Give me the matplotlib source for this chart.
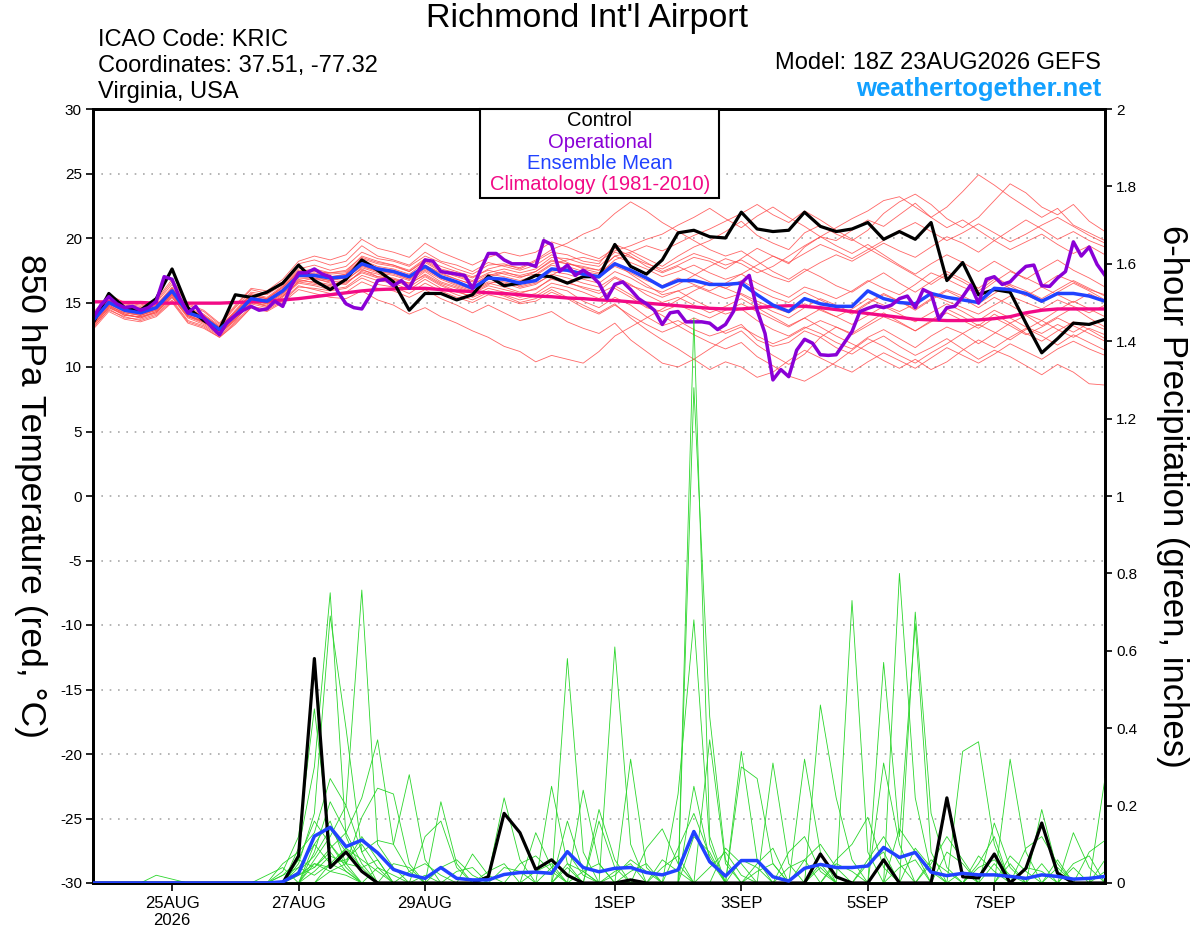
"""GEFS meteogram, Richmond Int'l Airport"""

import numpy as np
import pandas as pd
import matplotlib
matplotlib.use('Agg')
import matplotlib.pyplot as plt
from matplotlib.patches import Rectangle

plt.rcParams['font.family'] = ['Liberation Sans', 'DejaVu Sans']
plt.rcParams['axes.unicode_minus'] = False

RUN = pd.Timestamp('2026-08-23 18:00')
times = pd.date_range(RUN, periods=65, freq='6h')      # ensemble, 6-hourly
times_op = pd.date_range(RUN, periods=129, freq='3h')  # operational, 3-hourly

tick_dates = ['2026-08-25', '2026-08-27', '2026-08-29', '2026-09-01',
              '2026-09-03', '2026-09-05', '2026-09-07']
tick_labels = ['25AUG\n2026', '27AUG', '29AUG', '1SEP', '3SEP', '5SEP', '7SEP']

# 850 hPa temperature (C)
control_t = [13.4, 15.7, 14.6, 14.4, 15.3, 17.6, 14.6, 13.6, 12.9, 15.6,
             15.4, 15.8, 16.5, 17.9, 16.7, 16.0, 16.8, 18.3, 17.5, 16.6,
             14.4, 15.7, 15.7, 15.2, 15.6, 17.05, 16.3, 16.5, 17.1, 17.0,
             16.5, 17.0, 17.0, 19.5, 17.8, 17.2, 18.3, 20.4, 20.6, 20.1,
             20.0, 22.0, 20.7, 20.5, 20.6, 22.0, 20.9, 20.5, 20.7, 21.2,
             19.9, 20.5, 19.9, 21.2, 16.7, 18.1, 15.6, 16.0, 15.8, 13.4,
             11.1, 12.2, 13.4, 13.3, 13.7]

mean_t = [13.6, 15.0, 14.4, 14.2, 14.6, 15.9, 14.2, 13.8, 12.9, 14.0,
          15.3, 15.1, 15.9, 17.1, 17.1, 16.9, 17.0, 18.0, 17.6, 17.4,
          17.0, 17.8, 17.0, 16.6, 16.1, 16.9, 16.8, 16.5, 16.7, 17.6,
          17.5, 17.2, 17.0, 18.0, 17.5, 16.9, 16.2, 16.7, 16.7, 16.4,
          16.4, 16.5, 15.6, 14.8, 14.3, 15.3, 14.9, 14.7, 14.7, 15.9,
          15.3, 15.0, 14.9, 15.7, 15.4, 15.2, 15.0, 16.1, 16.0, 15.7,
          15.1, 15.7, 15.7, 15.5, 15.1]

clim_t = [15.05, 15.05, 15.0, 15.0, 14.95, 14.95, 14.95, 14.95, 14.95, 15.0,
          15.05, 15.1, 15.2, 15.3, 15.45, 15.6, 15.75, 15.9, 16.0, 16.05,
          16.1, 16.1, 16.0, 15.9, 15.85, 15.75, 15.7, 15.6, 15.5, 15.45,
          15.35, 15.3, 15.2, 15.15, 15.05, 14.95, 14.85, 14.75, 14.65, 14.55,
          14.5, 14.5, 14.6, 14.7, 14.75, 14.7, 14.6, 14.45, 14.3, 14.15,
          14.0, 13.85, 13.7, 13.65, 13.6, 13.6, 13.65, 13.75, 13.9, 14.2,
          14.4, 14.5, 14.5, 14.5, 14.5]

oper_t = [13.8, 14.8, 15.45, 14.9, 14.6, 14.7, 14.4, 14.6, 15.1, 17.0,
          16.8, 15.3, 14.2, 14.7, 13.8, 13.1, 12.5, 13.5, 14.0, 14.4,
          14.7, 14.4, 14.5, 15.1, 14.7, 16.2, 17.3, 17.3, 17.6, 17.2,
          17.0, 15.8, 14.9, 14.6, 14.5, 15.5, 16.7, 16.8, 16.3, 16.7,
          16.1, 17.3, 18.3, 18.2, 17.4, 17.3, 17.2, 17.1, 16.1, 17.5,
          18.8, 18.8, 18.3, 18.0, 18.0, 18.0, 17.8, 19.8, 19.5, 17.4,
          17.9, 17.1, 17.5, 17.1, 16.5, 15.3, 16.4, 16.6, 16.0, 15.3,
          14.9, 14.4, 13.3, 14.2, 14.3, 13.5, 13.5, 13.5, 13.4, 12.9,
          13.3, 14.3, 16.5, 17.1, 14.4, 12.6, 9.0, 9.8, 9.25, 11.3,
          12.15, 11.85, 10.95, 10.9, 10.95, 11.85, 12.75, 14.3, 14.55, 14.75,
          14.6, 14.8, 15.3, 15.5, 14.6, 16.0, 15.7, 13.7, 14.6, 14.7,
          15.45, 16.35, 14.95, 16.8, 17.0, 16.4, 16.6, 17.25, 17.8, 17.9,
          16.3, 16.25, 16.9, 17.4, 19.7, 18.6, 19.3, 17.95, 17.1]

# ensemble members, temperature
temp_members = [
    [13.9, 15.3, 14.8, 14.6, 15.0, 16.4, 14.6, 14.1, 13.2, 14.6, 15.8, 15.6, 16.4,
     17.6, 17.9, 17.5, 17.8, 18.9, 18.4, 18.2, 17.8, 18.6, 18.1, 17.6, 17.2,
     17.9, 18.0, 17.6, 18.2, 18.9, 18.7, 18.2, 18.0, 19.5, 19.0, 18.4, 17.8,
     18.6, 19.3, 19.8, 20.5, 21.3, 20.2, 19.6, 19.1, 20.4, 21.0, 20.3, 19.8,
     20.6, 21.9, 22.8, 23.4, 22.6, 21.5, 20.8, 21.6, 22.9, 24.2, 23.5, 22.4, 21.8, 22.6, 21.3, 20.5],
    [13.2, 14.6, 14.0, 13.9, 14.2, 15.4, 13.9, 13.4, 12.6, 13.6, 15.0, 14.8, 15.6,
     16.8, 16.5, 16.3, 16.8, 17.6, 17.0, 16.9, 16.5, 17.4, 16.6, 16.2, 15.8,
     16.4, 16.9, 16.2, 16.5, 17.1, 17.8, 17.4, 17.2, 18.3, 18.8, 18.1, 17.4,
     17.9, 18.5, 18.2, 17.6, 18.4, 19.2, 18.6, 18.0, 19.3, 20.1, 19.8, 20.6,
     21.4, 20.9, 21.8, 22.7, 21.6, 22.4, 23.6, 24.9, 24.1, 23.2, 22.4, 21.6, 22.3, 21.0, 20.4, 19.8],
    [13.4, 14.8, 14.1, 13.8, 14.3, 15.6, 14.0, 13.5, 12.7, 13.9, 15.1, 14.7, 15.5,
     16.6, 16.9, 16.5, 16.4, 17.5, 17.2, 16.8, 16.5, 17.1, 16.4, 15.9, 15.4,
     15.9, 15.6, 15.2, 15.5, 16.2, 15.9, 15.1, 14.6, 15.4, 14.8, 13.9, 13.2,
     13.6, 12.9, 12.4, 12.8, 13.3, 12.1, 11.6, 11.9, 12.8, 12.3, 11.5, 11.0,
     11.8, 12.4, 11.6, 10.9, 11.5, 12.2, 11.4, 10.6, 11.3, 10.8, 10.1, 9.4, 10.2, 9.6, 8.7, 8.6],
    [13.0, 14.5, 13.8, 13.7, 14.1, 15.2, 13.6, 13.2, 12.4, 13.5, 14.7, 14.5, 15.2,
     16.3, 16.0, 15.7, 15.8, 16.6, 16.1, 15.9, 15.4, 16.0, 15.3, 14.8, 14.2,
     14.8, 14.2, 13.6, 13.9, 14.3, 13.5, 13.0, 12.6, 13.4, 12.1, 11.2, 10.3,
     10.0, 10.6, 11.4, 12.2, 12.8, 11.7, 10.9, 10.2, 11.0, 12.3, 13.1, 12.6,
     13.4, 14.2, 13.5, 12.8, 13.6, 14.5, 13.9, 13.2, 14.1, 13.4, 12.6, 12.0, 12.8, 13.5, 12.9, 12.2],
    [14.1, 15.4, 14.9, 14.7, 15.1, 16.6, 14.8, 14.3, 13.3, 14.7, 16.0, 15.7, 16.6,
     18.0, 18.3, 17.9, 18.2, 19.4, 18.6, 18.3, 17.9, 18.9, 18.2, 17.9, 17.4,
     18.1, 17.8, 17.5, 17.9, 18.7, 18.1, 17.6, 17.3, 18.1, 17.2, 16.4, 15.6,
     15.9, 15.2, 14.6, 14.1, 14.5, 13.6, 12.9, 12.4, 13.1, 12.6, 11.9, 11.4,
     12.3, 12.9, 12.2, 11.5, 12.4, 13.1, 12.6, 11.8, 12.6, 13.4, 14.0, 13.2, 13.9, 14.6, 13.8, 13.1],
    [13.5, 15.1, 14.5, 14.3, 14.8, 16.1, 14.4, 14.0, 13.1, 14.3, 15.6, 15.3, 16.2,
     17.3, 17.5, 17.2, 17.3, 18.4, 18.0, 17.8, 17.4, 18.3, 17.6, 17.3, 16.9,
     17.6, 17.9, 17.7, 18.3, 19.1, 19.6, 20.3, 20.8, 21.9, 22.8, 22.1, 21.2,
     20.5, 19.8, 19.1, 18.6, 19.0, 18.2, 17.4, 16.8, 17.6, 17.0, 16.3, 15.8,
     16.6, 17.3, 16.5, 15.8, 16.6, 17.4, 16.8, 16.1, 17.0, 16.3, 15.6, 15.0, 15.8, 16.5, 15.9, 15.2],
    [13.7, 15.0, 14.3, 14.0, 14.5, 15.8, 14.1, 13.7, 12.8, 14.1, 15.4, 15.2, 16.0,
     17.2, 17.0, 16.7, 17.1, 18.1, 17.5, 17.4, 16.9, 17.9, 17.3, 16.8, 16.4,
     17.1, 17.4, 17.0, 17.2, 18.0, 18.3, 18.5, 18.2, 19.0, 19.4, 19.9, 20.3,
     21.0, 21.6, 22.3, 21.5, 20.8, 21.7, 22.4, 21.6, 20.9, 20.1, 19.4, 18.8,
     19.5, 18.7, 17.9, 17.2, 18.0, 18.7, 18.1, 17.4, 18.2, 17.5, 16.8, 17.6, 18.3, 17.5, 16.9, 16.2],
    [13.3, 14.7, 14.2, 14.0, 14.4, 15.7, 14.0, 13.6, 12.7, 13.8, 15.2, 14.9, 15.7,
     16.9, 16.8, 16.6, 16.7, 17.7, 17.3, 17.1, 16.7, 17.5, 16.8, 16.3, 15.9,
     16.5, 16.2, 15.8, 16.0, 16.9, 16.6, 16.1, 15.7, 16.3, 15.6, 14.7, 14.0,
     13.2, 12.5, 11.9, 11.4, 11.9, 10.8, 10.1, 9.3, 8.9, 9.6, 10.4, 11.3,
     12.2, 11.6, 10.9, 10.3, 11.1, 11.8, 12.6, 13.3, 12.7, 12.1, 12.9, 13.6, 12.9, 12.3, 13.0, 12.5],
    [13.8, 15.2, 14.6, 14.4, 14.8, 16.2, 14.5, 14.0, 13.0, 14.4, 15.7, 15.4, 16.3,
     17.5, 17.4, 17.3, 17.5, 18.5, 18.1, 17.9, 17.5, 18.4, 17.8, 17.4, 17.0,
     17.5, 17.2, 16.9, 17.4, 18.3, 18.0, 17.8, 17.5, 18.6, 18.1, 17.6, 17.0,
     17.4, 17.9, 17.3, 16.8, 17.2, 16.5, 15.9, 15.4, 16.2, 15.8, 15.3, 15.9,
     16.7, 16.1, 15.6, 16.4, 17.3, 16.8, 16.2, 15.7, 16.6, 17.4, 16.9, 16.3, 17.1, 16.6, 16.0, 15.6],
    [13.1, 14.4, 13.9, 13.6, 14.0, 15.1, 13.5, 13.1, 12.3, 13.4, 14.6, 14.3, 15.0,
     16.0, 15.7, 15.4, 15.3, 15.9, 15.2, 14.8, 14.1, 14.6, 13.9, 13.4, 12.8,
     12.3, 11.6, 11.2, 10.4, 10.9, 10.6, 10.3, 11.2, 12.4, 13.1, 13.8, 14.5,
     15.2, 15.9, 16.5, 16.1, 15.6, 14.9, 14.3, 13.8, 14.6, 15.3, 14.8, 14.2,
     15.0, 15.7, 15.1, 14.4, 15.2, 15.9, 15.3, 14.6, 15.4, 14.8, 14.1, 13.6, 14.4, 15.1, 14.5, 13.9],
    [13.6, 14.9, 14.4, 14.1, 14.6, 15.8, 14.2, 13.8, 12.9, 14.0, 15.3, 15.0, 15.9,
     17.1, 17.2, 16.8, 16.9, 17.9, 17.4, 17.2, 16.8, 17.7, 16.9, 16.5, 16.1,
     16.8, 16.6, 16.3, 16.6, 17.4, 17.2, 16.8, 16.5, 17.4, 16.9, 16.2, 15.8,
     16.4, 17.1, 17.8, 18.4, 18.0, 17.3, 17.8, 18.6, 19.4, 20.1, 20.8, 21.5,
     22.1, 22.9, 23.2, 22.4, 21.6, 20.8, 21.4, 20.6, 19.8, 19.1, 19.7, 20.3, 19.5, 18.8, 19.4, 18.7],
    [13.4, 14.9, 14.3, 14.1, 14.5, 15.7, 14.1, 13.7, 12.8, 13.9, 15.2, 15.0, 15.8,
     17.0, 16.9, 16.7, 16.9, 17.8, 17.4, 17.3, 16.8, 17.6, 16.9, 16.4, 16.0,
     16.6, 16.5, 16.1, 16.4, 17.2, 16.9, 16.5, 16.2, 17.0, 16.4, 15.6, 15.0,
     15.4, 14.8, 14.2, 14.7, 15.3, 14.6, 13.9, 13.2, 13.8, 13.1, 12.4, 11.8,
     11.2, 10.5, 9.9, 10.6, 9.8, 10.4, 11.3, 12.1, 11.5, 12.3, 13.0, 12.4, 11.7, 12.5, 11.9, 11.3],
    [13.7, 15.1, 14.5, 14.3, 14.7, 16.0, 14.3, 13.9, 13.0, 14.2, 15.5, 15.3, 16.1,
     17.4, 17.6, 17.3, 17.4, 18.6, 18.2, 17.9, 17.4, 18.2, 17.5, 17.1, 16.7,
     17.3, 17.6, 17.3, 17.6, 18.5, 18.4, 18.0, 17.8, 18.9, 18.5, 18.0, 17.6,
     18.2, 18.8, 18.4, 17.9, 18.3, 17.6, 17.0, 16.6, 17.4, 18.1, 18.7, 18.2,
     18.9, 19.6, 19.0, 18.5, 19.3, 20.1, 19.6, 18.9, 19.8, 20.6, 21.4, 20.7, 19.9, 20.5, 19.8, 19.3],
    [12.9, 14.3, 13.7, 13.5, 13.9, 15.0, 13.4, 13.0, 12.3, 13.3, 14.6, 14.4, 15.1,
     16.2, 16.1, 15.9, 16.1, 16.9, 16.4, 16.2, 15.7, 16.5, 15.9, 15.4, 15.0,
     15.6, 15.3, 14.9, 15.1, 15.8, 15.3, 14.6, 14.1, 14.8, 14.0, 13.3, 12.7,
     13.2, 13.8, 13.3, 12.6, 13.1, 12.4, 11.8, 12.3, 13.0, 13.6, 13.1, 12.5,
     13.2, 13.9, 13.4, 12.8, 13.5, 14.2, 13.6, 13.0, 13.8, 13.2, 12.5, 13.1, 13.8, 13.2, 12.6, 12.0],
    [14.2, 15.6, 15.0, 14.8, 15.2, 16.8, 14.9, 14.4, 13.4, 14.8, 16.1, 15.9, 16.8,
     18.2, 18.6, 18.3, 18.7, 19.9, 19.2, 18.9, 18.5, 19.6, 18.9, 18.4, 17.9,
     18.5, 18.9, 18.6, 18.9, 19.7, 19.3, 18.8, 18.4, 19.2, 18.6, 17.8, 17.3,
     17.8, 17.2, 16.6, 16.1, 16.7, 16.0, 15.4, 15.0, 15.8, 15.2, 14.6, 14.1,
     14.9, 15.6, 15.1, 14.5, 15.3, 16.0, 15.5, 14.9, 15.7, 16.4, 15.9, 15.3, 16.0, 16.7, 16.1, 15.5],
    [13.5, 14.8, 14.2, 14.0, 14.4, 15.6, 14.0, 13.5, 12.6, 13.8, 15.1, 14.9, 15.7,
     16.7, 16.6, 16.4, 16.5, 17.4, 17.0, 16.8, 16.4, 17.2, 16.5, 16.1, 15.7,
     16.3, 16.0, 15.7, 16.1, 16.8, 16.5, 16.2, 15.9, 16.9, 16.3, 15.9, 15.4,
     15.9, 16.3, 15.8, 15.3, 15.7, 15.1, 14.6, 14.2, 14.9, 14.4, 13.9, 14.5,
     15.3, 14.8, 14.3, 14.9, 15.6, 15.1, 14.6, 14.1, 14.8, 15.5, 15.0, 14.5, 15.2, 14.7, 14.2, 14.8],
    [13.6, 15.0, 14.4, 14.2, 14.6, 15.9, 14.3, 13.8, 12.9, 14.1, 15.4, 15.2, 16.0,
     17.2, 17.3, 17.0, 17.2, 18.2, 17.7, 17.5, 17.1, 17.9, 17.2, 16.8, 16.4,
     17.0, 17.3, 17.1, 17.4, 18.2, 18.0, 17.7, 17.5, 18.6, 18.9, 19.4, 19.0,
     19.6, 20.2, 20.7, 21.3, 21.9, 22.6, 21.8, 21.2, 22.1, 21.4, 20.6, 19.9,
     19.2, 18.5, 17.8, 17.1, 16.4, 17.2, 16.6, 15.9, 16.8, 16.1, 15.5, 16.2, 15.6, 15.0, 15.7, 15.1],
    [13.2, 14.6, 14.1, 13.8, 14.2, 15.4, 13.8, 13.3, 12.5, 13.7, 14.9, 14.6, 15.4,
     16.5, 16.3, 16.0, 16.2, 17.1, 16.7, 16.5, 16.0, 16.8, 16.1, 15.6, 15.2,
     15.8, 15.5, 15.0, 15.3, 16.0, 15.4, 14.8, 14.2, 14.9, 13.8, 12.9, 12.1,
     11.4, 10.6, 9.8, 10.4, 10.0, 9.2, 9.6, 10.5, 11.3, 10.7, 10.1, 9.6,
     10.4, 11.1, 10.5, 9.9, 10.7, 11.5, 10.9, 10.3, 11.0, 11.8, 11.2, 10.6, 11.4, 12.0, 11.4, 10.9],
    [13.8, 15.1, 14.6, 14.3, 14.7, 16.1, 14.4, 14.0, 13.1, 14.3, 15.6, 15.3, 16.2,
     17.4, 17.2, 16.9, 17.2, 18.3, 17.8, 17.6, 17.2, 18.1, 17.4, 17.0, 16.6,
     17.2, 17.0, 16.7, 17.1, 17.9, 17.6, 17.3, 17.0, 17.8, 17.3, 16.7, 16.3,
     16.9, 16.4, 15.9, 16.5, 17.2, 17.9, 18.6, 18.1, 18.8, 19.5, 19.0, 18.4,
     19.1, 19.8, 20.6, 21.2, 20.5, 19.8, 20.4, 21.1, 20.4, 19.7, 20.3, 21.0, 21.6, 20.9, 20.2, 19.6],
    [13.3, 14.7, 14.0, 13.9, 14.3, 15.5, 13.9, 13.5, 12.6, 13.7, 15.0, 14.7, 15.5,
     16.6, 16.4, 16.2, 16.6, 17.3, 16.9, 16.7, 16.2, 17.0, 16.3, 15.8, 15.5,
     16.1, 15.8, 15.4, 15.7, 16.5, 16.2, 15.8, 15.3, 16.1, 15.4, 14.6, 14.3,
     14.8, 14.3, 13.8, 14.4, 14.9, 14.3, 13.7, 13.1, 13.8, 14.5, 13.9, 13.3,
     14.0, 14.7, 14.1, 13.5, 14.2, 14.9, 14.3, 13.6, 14.4, 13.8, 13.1, 12.6, 13.3, 12.7, 13.4, 12.9],
]

# 6-hour precipitation (inches)
control_p = [0, 0, 0, 0, 0, 0, 0, 0, 0, 0,
             0, 0, 0, 0.07, 0.58, 0.04, 0.08, 0.03, 0, 0,
             0, 0, 0, 0, 0, 0.016, 0.18, 0.13, 0.035, 0.06,
             0.02, 0, 0, 0, 0.008, 0, 0, 0, 0, 0,
             0, 0, 0, 0, 0, 0, 0.075, 0.016, 0, 0,
             0.06, 0, 0, 0, 0.22, 0.016, 0.013, 0.075, 0, 0.038,
             0.155, 0.025, 0, 0, 0]

mean_p = [0, 0, 0, 0, 0, 0, 0, 0, 0, 0,
          0, 0, 0.003, 0.025, 0.121, 0.144, 0.094, 0.111, 0.078, 0.035,
          0.021, 0.012, 0.04, 0.012, 0.008, 0.008, 0.022, 0.027, 0.028, 0.025,
          0.081, 0.04, 0.029, 0.038, 0.04, 0.027, 0.021, 0.034, 0.133, 0.055,
          0.018, 0.058, 0.058, 0.016, 0.005, 0.038, 0.048, 0.04, 0.04, 0.044,
          0.092, 0.066, 0.079, 0.028, 0.019, 0.025, 0.021, 0.021, 0.017, 0.012,
          0.021, 0.017, 0.01, 0.012, 0.017]

# members: {step index: amount}, all other steps dry
precip_members = [
    {12: 0.03, 13: 0.12, 14: 0.45, 15: 0.10, 16: 0.04, 22: 0.21, 23: 0.05, 30: 0.58,
     31: 0.08, 38: 1.46, 39: 0.12, 46: 0.05, 51: 0.80, 52: 0.22, 53: 0.03, 58: 0.05},
    {13: 0.09, 14: 0.30, 15: 0.75, 16: 0.12, 17: 0.03, 25: 0.02, 26: 0.22, 27: 0.06,
     33: 0.61, 34: 0.10, 38: 1.28, 39: 0.43, 40: 0.06, 48: 0.73, 49: 0.08, 56: 0.05, 57: 0.12},
    {4: 0.02, 5: 0.01, 13: 0.05, 14: 0.18, 15: 0.69, 16: 0.40, 17: 0.08, 29: 0.25, 30: 0.05,
     37: 0.23, 38: 0.68, 39: 0.10, 50: 0.57, 51: 0.12, 52: 0.67, 53: 0.08, 60: 0.19, 61: 0.03},
    {12: 0.05, 13: 0.08, 14: 0.13, 15: 0.27, 16: 0.20, 17: 0.757, 18: 0.10, 19: 0.04,
     31: 0.24, 32: 0.05, 41: 0.34, 42: 0.06, 52: 0.70, 53: 0.18, 54: 0.04, 64: 0.27},
    {11: 0.02, 12: 0.04, 14: 0.08, 15: 0.21, 16: 0.13, 17: 0.22, 18: 0.37, 19: 0.10, 20: 0.03,
     28: 0.13, 29: 0.04, 34: 0.32, 35: 0.04, 45: 0.32, 46: 0.08, 55: 0.34, 56: 0.365, 57: 0.10},
    {13: 0.04, 14: 0.10, 15: 0.16, 16: 0.05, 17: 0.17, 18: 0.245, 19: 0.23, 20: 0.05,
     32: 0.19, 33: 0.06, 43: 0.31, 44: 0.05, 50: 0.31, 51: 0.10, 58: 0.32, 59: 0.08},
    {14: 0.06, 15: 0.12, 16: 0.20, 17: 0.08, 18: 0.11, 19: 0.10, 20: 0.28, 21: 0.06, 30: 0.16,
     31: 0.03, 39: 0.37, 40: 0.05, 46: 0.46, 47: 0.22, 48: 0.06, 62: 0.13, 63: 0.04},
    {13: 0.02, 14: 0.04, 15: 0.09, 16: 0.13, 17: 0.05, 21: 0.12, 22: 0.16, 23: 0.04,
     32: 0.16, 33: 0.04, 41: 0.30, 42: 0.27, 43: 0.05, 53: 0.05, 54: 0.12, 55: 0.06},
    {15: 0.05, 16: 0.09, 17: 0.04, 18: 0.06, 24: 0.075, 25: 0.02, 33: 0.03, 34: 0.05, 37: 0.09,
     38: 0.18, 39: 0.07, 47: 0.06, 48: 0.10, 49: 0.17, 50: 0.04, 57: 0.155, 58: 0.04},
    {12: 0.02, 13: 0.06, 14: 0.16, 15: 0.10, 16: 0.05, 27: 0.05, 28: 0.07, 29: 0.03, 35: 0.09,
     36: 0.14, 37: 0.05, 44: 0.08, 45: 0.12, 46: 0.03, 59: 0.09, 60: 0.12, 61: 0.05},
    {14: 0.03, 15: 0.07, 16: 0.05, 17: 0.12, 18: 0.06, 22: 0.04, 23: 0.06, 24: 0.02, 30: 0.05,
     31: 0.03, 40: 0.09, 41: 0.05, 51: 0.14, 52: 0.08, 56: 0.07, 57: 0.03, 63: 0.08, 64: 0.11},
    {13: 0.03, 14: 0.07, 15: 0.14, 16: 0.08, 17: 0.03, 19: 0.05, 20: 0.04, 26: 0.04, 27: 0.03,
     38: 0.25, 39: 0.06, 45: 0.06, 46: 0.10, 47: 0.04, 54: 0.08, 55: 0.05, 61: 0.06},
    {14: 0.05, 15: 0.04, 16: 0.09, 17: 0.06, 18: 0.03, 29: 0.04, 30: 0.08, 31: 0.02, 36: 0.04,
     37: 0.07, 42: 0.05, 43: 0.09, 49: 0.06, 50: 0.12, 51: 0.05, 58: 0.07, 59: 0.03},
    {13: 0.02, 14: 0.05, 15: 0.03, 16: 0.02, 18: 0.04, 19: 0.02, 33: 0.02, 34: 0.06, 35: 0.03,
     39: 0.04, 40: 0.08, 41: 0.02, 52: 0.09, 53: 0.04, 60: 0.05, 62: 0.04, 64: 0.06},
    {12: 0.02, 13: 0.04, 14: 0.02, 15: 0.05, 16: 0.03, 20: 0.03, 21: 0.05, 22: 0.02, 31: 0.03,
     32: 0.05, 44: 0.04, 45: 0.06, 47: 0.05, 48: 0.03, 56: 0.04, 57: 0.06, 58: 0.02},
    {14: 0.10, 15: 0.05, 16: 0.06, 17: 0.10, 18: 0.04, 25: 0.03, 26: 0.05, 36: 0.06, 37: 0.03,
     46: 0.04, 49: 0.05, 50: 0.08, 55: 0.03, 62: 0.05, 63: 0.07},
    {15: 0.03, 16: 0.05, 17: 0.04, 23: 0.03, 24: 0.04, 28: 0.03, 29: 0.05, 38: 0.12, 39: 0.08,
     42: 0.03, 43: 0.05, 53: 0.06, 54: 0.03, 59: 0.04, 60: 0.03},
    {13: 0.06, 14: 0.04, 15: 0.08, 16: 0.03, 21: 0.02, 30: 0.04, 34: 0.03, 35: 0.05, 41: 0.06,
     42: 0.04, 51: 0.04, 52: 0.06, 57: 0.05, 61: 0.04, 64: 0.03},
]

assert len(oper_t) == len(times_op)
for s in [control_t, mean_t, clim_t, control_p, mean_p] + temp_members:
    assert len(s) == len(times), len(s)

C_RED = '#ff4a4a'
C_GREEN = '#2bd62b'
C_OPER = '#8a00d6'
C_MEAN = '#2142ff'
C_CLIM = '#f20a86'

fig = plt.figure(figsize=(12, 9.27), dpi=100)
ax = fig.add_axes([93 / 1200, 44 / 927, 1012 / 1200, 774 / 927])
ax2 = ax.twinx()

# temperature
for m in temp_members:
    ax.plot(times, m, color=C_RED, lw=0.6, alpha=0.85, zorder=2)
ax.plot(times, clim_t, color=C_CLIM, lw=2.4, zorder=3)
ax.plot(times, control_t, color='black', lw=2.3, zorder=4)
ax.plot(times, mean_t, color=C_MEAN, lw=2.5, zorder=5)
ax.plot(times_op, oper_t, color=C_OPER, lw=2.5, zorder=6)

# precipitation
for d in precip_members:
    p = np.zeros(len(times))
    for k, v in d.items():
        p[k] = v
    ax2.plot(times, p, color=C_GREEN, lw=0.6, zorder=2)
ax2.plot(times, control_p, color='black', lw=2.3, zorder=4)
ax2.plot(times, mean_p, color=C_MEAN, lw=2.5, zorder=5)

ax.set_xlim(times[0], times[-1])
ax.set_ylim(-30, 30)
ax2.set_ylim(0, 2)

ax.set_yticks(range(-30, 31, 5))
ax2.set_yticks(np.arange(0, 2.01, 0.2))
ax2.set_yticklabels([f'{v:g}' for v in np.round(np.arange(0, 2.01, 0.2), 1)])
ax.set_xticks(pd.to_datetime(tick_dates))
ax.set_xticklabels(tick_labels)

ax.yaxis.grid(True, color='#a8a8a8', linestyle=(0, (1, 4)), lw=1.2)
ax.set_axisbelow(True)

for a in (ax, ax2):
    for sp in a.spines.values():
        sp.set_linewidth(2)
    a.tick_params(direction='out', length=5, width=1.2, labelsize=11, pad=3)
ax.tick_params(axis='x', length=6, labelsize=12, pad=3)

fig.text(30 / 1200, 1 - 496 / 927, '850 hPa Temperature (red, °C)', fontsize=25.5,
         rotation=270, ha='center', va='center')
fig.text(1172 / 1200, 1 - 496 / 927, '6-hour Precipitation (green, inches)',
         fontsize=25, rotation=270, ha='center', va='center')

# header
fig.text(587 / 1200, 1 - 19 / 927, "Richmond Int'l Airport", fontsize=24.5,
         ha='center', va='center')
for k, line in enumerate(['ICAO Code: KRIC', 'Coordinates: 37.51, -77.32', 'Virginia, USA']):
    fig.text(98 / 1200, 1 - (40 + 26 * k) / 927, line, fontsize=17, ha='left', va='center')
fig.text(1101 / 1200, 1 - 63 / 927, 'Model: 18Z 23AUG2026 GEFS', fontsize=17,
         ha='right', va='center')
fig.text(1101 / 1200, 1 - 89 / 927, 'weathertogether.net', fontsize=18.5,
         fontweight='bold', color='#12a0ff', ha='right', va='center')

# legend box
fig.add_artist(Rectangle((480 / 1200, 1 - 198 / 927), 239 / 1200, 89 / 927,
                         transform=fig.transFigure, facecolor='white',
                         edgecolor='black', lw=1.5, zorder=5))
legend_items = [('Control', 'black'), ('Operational', C_OPER),
                ('Ensemble Mean', C_MEAN), ('Climatology (1981-2010)', C_CLIM)]
for k, (name, col) in enumerate(legend_items):
    fig.text(600 / 1200, 1 - (121 + 21.3 * k) / 927, name, fontsize=14.5, color=col,
             ha='center', va='center', zorder=6)

fig.savefig('out.png', dpi=100)
